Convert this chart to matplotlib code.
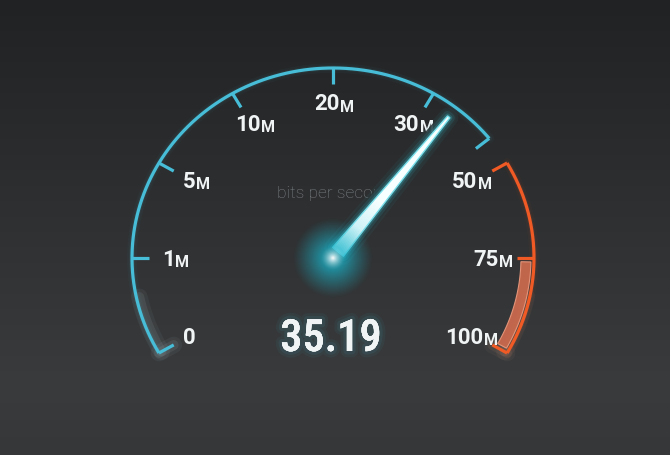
import numpy as np
import matplotlib
matplotlib.use('Agg')
import matplotlib.pyplot as plt
from matplotlib import font_manager
from matplotlib.font_manager import FontProperties
from matplotlib.patches import Polygon
import matplotlib.patheffects as pe

# === 数据 ===
tick_values = [0, 1, 5, 10, 20, 30, 50, 75, 100]
tick_numbers = ['0', '1', '5', '10', '20', '30', '50', '75', '100']
tick_units = ['', 'M', 'M', 'M', 'M', 'M', 'M', 'M', 'M']
speed = 35.19
speed_text = '35.19'
caption = 'bits per second'
blue_zone = (0, 44)
orange_zone = (50, 100)
band_zone = (76, 99)

# === 几何 (像素坐标) ===
W, H = 670, 455
CX, CY = 333, 258
RX, RY = 201, 190
tick_angles = [210 - 30 * i for i in range(len(tick_values))]

BLUE = '#47bdd7'
ORANGE = '#f05a25'
TEXT = '#f1f4f5'

avail = {f.name for f in font_manager.fontManager.ttflist}
LABEL_FONT = 'Roboto' if 'Roboto' in avail else 'DejaVu Sans'

# 找一个窄体字体给大数字
narrow_file = None
for key in ['RobotoCondensed-Medium', 'RobotoCondensed-Regular', 'LiberationSansNarrow-Bold',
            'LiberationSansNarrow-Regular', 'DejaVuSansCondensed-Bold', 'DejaVuSansCondensed.']:
    for f in font_manager.fontManager.ttflist:
        if key in f.fname.split('/')[-1]:
            narrow_file = f.fname
            break
    if narrow_file:
        break
if narrow_file:
    big_fp = FontProperties(fname=narrow_file, size=32)
else:
    big_fp = FontProperties(family=LABEL_FONT, weight='medium', size=30)


def val2ang(v):
    return np.interp(v, tick_values, tick_angles)


def pt(ang, f=1.0):
    a = np.radians(ang)
    return CX + f * RX * np.cos(a), CY - f * RY * np.sin(a)


fig = plt.figure(figsize=(W / 100, H / 100), dpi=100)
ax = fig.add_axes([0, 0, 1, 1])
ax.set_xlim(0, W)
ax.set_ylim(H, 0)
ax.axis('off')

# 背景渐变
yy = np.linspace(0, 1, H)[:, None]
top = np.array([0x21, 0x22, 0x23]) / 255
mid = np.array([0x39, 0x3b, 0x3d]) / 255
bot = np.array([0x35, 0x37, 0x39]) / 255
t1 = np.clip(yy / 0.85, 0, 1)
t2 = np.clip((yy - 0.85) / 0.15, 0, 1)
col = top + (mid - top) * t1[..., None]
col = col + (bot - mid) * t2[..., None]
bg = np.repeat(col, W, axis=1)
ax.imshow(bg, extent=(0, W, H, 0), aspect='auto', zorder=0)


def arc_xy(v0, v1, f=1.0, n=200):
    angs = np.linspace(val2ang(v0), val2ang(v1), n)
    return pt(angs, f)


def draw_arc(v0, v1, color, z=3):
    xs, ys = arc_xy(v0, v1)
    for lw, al in [(7, 0.04), (4, 0.07)]:
        ax.plot(xs, ys, color=color, lw=lw, alpha=al, solid_capstyle='round', zorder=z - 1)
    ax.plot(xs, ys, color=color, lw=2.3, solid_capstyle='butt', zorder=z)


def draw_tick(v, color, f_in=0.915, glow=None):
    a = val2ang(v)
    x0, y0 = pt(a, 1.0)
    x1, y1 = pt(a, f_in)
    if glow:
        for lw, al in [(12, 0.05), (7, 0.08)]:
            ax.plot([x0, x1], [y0, y1], color=glow, lw=lw, alpha=al, solid_capstyle='round', zorder=2)
    ax.plot([x0, x1], [y0, y1], color=color, lw=2.3, solid_capstyle='butt', zorder=3)


draw_arc(*blue_zone, BLUE)
draw_arc(*orange_zone, ORANGE)

# 两端光晕
for (v0, v1), c in [((0, 0.6), '#d6f2f7'), ((85, 100), '#f7b494')]:
    xs, ys = arc_xy(v0, v1, 0.985)
    for lw, al in [(12, 0.05), (7, 0.08)]:
        ax.plot(xs, ys, color=c, lw=lw, alpha=al, solid_capstyle='round', zorder=2)

for v in tick_values:
    glow = {0: '#d6f2f7', 100: '#f7b494'}.get(v)
    draw_tick(v, BLUE if v <= blue_zone[1] else ORANGE, glow=glow)
draw_tick(blue_zone[1], BLUE)

# 橙色高亮带
angs = np.linspace(val2ang(band_zone[0]), val2ang(band_zone[1]), 80)
ox, oy = pt(angs, 0.985)
ix, iy = pt(angs[::-1], 0.935)
band = np.column_stack([np.r_[ox, ix], np.r_[oy, iy]])
ax.add_patch(Polygon(band, closed=True, facecolor='#c9694d', edgecolor='#e8977c',
                     lw=0.8, alpha=0.95, zorder=3))

# 刻度文字
for v, num, unit, ang in zip(tick_values, tick_numbers, tick_units, tick_angles):
    x, y = pt(ang, 0.79)
    x0, y0 = pt(ang, 0.82)
    t = ax.text(x - 6, y0 + 8, num, fontsize=16, color=TEXT, family=LABEL_FONT,
                weight='bold', ha='center', va='baseline', zorder=5)
    if unit:
        ax.annotate(unit, xy=(1, 0), xycoords=t, xytext=(0.5, 0.5), textcoords='offset points',
                    fontsize=11.5, color=TEXT, family=LABEL_FONT, weight='bold',
                    ha='left', va='bottom', zorder=5)

ax.text(277, 198, caption, fontsize=12.5, color='#7e8387', family=LABEL_FONT,
        weight='light', ha='left', va='baseline', zorder=4)

# 指针
a = np.radians(val2ang(speed))
ux, uy = np.cos(a) * RX, -np.sin(a) * RY
n = np.hypot(ux, uy)
ux, uy = ux / n, uy / n
px, py = -uy, ux
L = 0.94 * np.hypot(np.cos(a) * RX, np.sin(a) * RY)
b0, w0, w1 = 8, 7, 1.5
needle = np.array([
    [CX + ux * b0 + px * w0, CY + uy * b0 + py * w0],
    [CX + ux * L + px * w1, CY + uy * L + py * w1],
    [CX + ux * L - px * w1, CY + uy * L - py * w1],
    [CX + ux * b0 - px * w0, CY + uy * b0 - py * w0],
])
# 指针下方暗影, 压住文字
ax.add_patch(Polygon(needle, closed=True, facecolor='none', edgecolor='#2a2d2f',
                     lw=9, alpha=0.9, joinstyle='round', zorder=5.5))
for lw, al in [(12, 0.06), (7, 0.12), (3.5, 0.25)]:
    ax.add_patch(Polygon(needle, closed=True, facecolor='none', edgecolor='#38c6d8',
                         lw=lw, alpha=al, joinstyle='round', zorder=6))
ax.add_patch(Polygon(needle, closed=True, facecolor='#f8ffff', edgecolor='#7adfea',
                     lw=1.0, zorder=7))
# 指针根部青色
seg = 60
for i in range(seg):
    f = i / seg
    d0 = b0 + (L * 0.4 - b0) * f
    d1 = b0 + (L * 0.4 - b0) * (i + 1) / seg
    ww0 = w0 + (w1 - w0) * (d0 / L)
    ww1 = w0 + (w1 - w0) * (d1 / L)
    quad = [[CX + ux * d0 + px * ww0, CY + uy * d0 + py * ww0],
            [CX + ux * d1 + px * ww1, CY + uy * d1 + py * ww1],
            [CX + ux * d1 - px * ww1, CY + uy * d1 - py * ww1],
            [CX + ux * d0 - px * ww0, CY + uy * d0 - py * ww0]]
    ax.add_patch(Polygon(quad, closed=True, facecolor='#6fd8e6', edgecolor='none',
                         alpha=0.6 * (1 - f), zorder=7.5))

# 中心光晕
R = 40
g = np.linspace(-R, R, 240)
gx, gy = np.meshgrid(g, g)
rr = np.hypot(gx, gy) / R
img = np.zeros((240, 240, 4))
cyan = np.array([0x1a, 0xb4, 0xca]) / 255
white_w = np.clip(1 - rr / 0.3, 0, 1) ** 1.3
img[..., :3] = cyan * (1 - white_w[..., None]) + white_w[..., None]
img[..., 3] = np.clip(1 - rr, 0, 1) ** 1.15
ax.imshow(img, extent=(CX - R, CX + R, CY + R, CY - R), zorder=8, interpolation='bilinear')

# 速度数字
glow = [pe.withStroke(linewidth=lw, foreground=(0.25, 0.6, 0.66, al)) for lw, al in [(9, 0.08), (5, 0.12)]]
ax.text(331, 351, speed_text, fontproperties=big_fp, color=TEXT,
        ha='center', va='baseline', zorder=9, path_effects=glow + [pe.Normal()])

fig.savefig('out.png', dpi=100, facecolor='#2b2c2e')
